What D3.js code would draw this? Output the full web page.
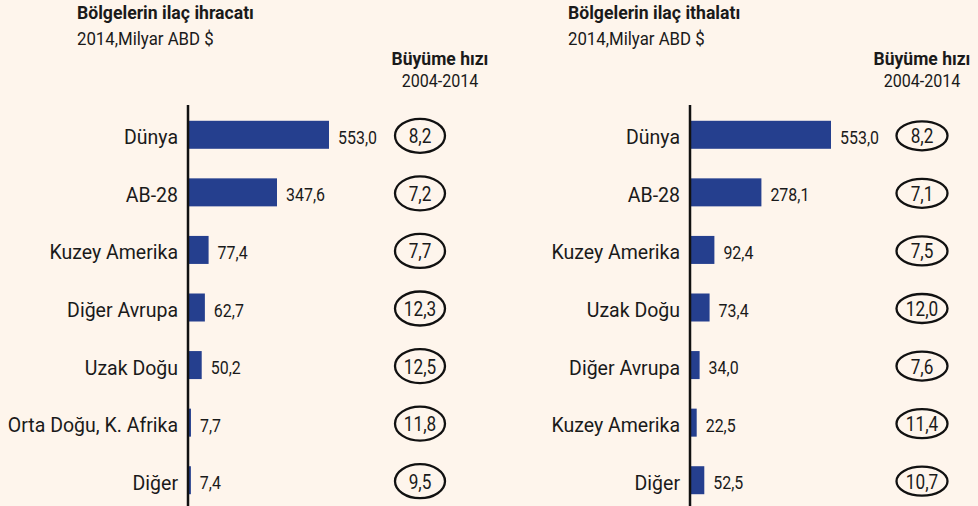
<!DOCTYPE html>
<meta charset="utf-8">
<style>
    body { margin: 0; background: #fef5ec; font-family: Roboto, "Noto Sans", sans-serif; }
    svg text { fill: #1a1a1a; }
</style>
<body>
<script src="https://cdn.jsdelivr.net/npm/d3@7/dist/d3.min.js"></script>
<script>

// ihracat (export)
var exportRegions = ["Dünya", "AB-28", "Kuzey Amerika", "Diğer Avrupa", "Uzak Doğu", "Orta Doğu, K. Afrika", "Diğer"];
var exportValues  = [553.0, 347.6, 77.4, 62.7, 50.2, 7.7, 7.4];
var exportGrowth  = [8.2, 7.2, 7.7, 12.3, 12.5, 11.8, 9.5];

// ithalat (import)
var importRegions = ["Dünya", "AB-28", "Kuzey Amerika", "Uzak Doğu", "Diğer Avrupa", "Kuzey Amerika", "Diğer"];
var importValues  = [553.0, 278.1, 92.4, 73.4, 34.0, 22.5, 52.5];
var importGrowth  = [8.2, 7.1, 7.5, 12.0, 7.6, 11.4, 10.7];

var fmt = function(v) { return d3.format(".1f")(v).replace(".", ","); };

var width = 978, height = 506;

var svg = d3.select("body").append("svg")
    .attr("width", width)
    .attr("height", height);

svg.append("rect")
    .attr("width", width)
    .attr("height", height)
    .attr("fill", "#fef5ec");

// the original uses a narrow DIN-like face; squeeze Roboto a little
function squeeze(x, y, s) {
  return "translate(" + x + "," + y + ") scale(" + s + ",1)";
}

function panel(opt) {
  var g = svg.append("g");
  var idx = d3.range(opt.regions.length);

  var y = d3.scalePoint()
      .domain(idx)
      .range([106, 509])
      .padding(0.5);

  var x = d3.scaleLinear()
      .domain([0, 553])
      .range([opt.axisX + 1, opt.axisX + 141]);

  // titles
  g.append("text")
      .attr("transform", squeeze(opt.titleX, 19, 0.98))
      .style("font-size", "18px").style("font-weight", "bold")
      .text(opt.title);
  g.append("text")
      .attr("transform", squeeze(opt.titleX, 45, 0.96))
      .style("font-size", "17.5px")
      .text("2014,Milyar ABD $");

  g.append("text")
      .attr("x", opt.headX).attr("y", 65)
      .attr("text-anchor", "middle")
      .style("font-size", "17.5px").style("font-weight", "bold")
      .text("Büyüme hızı");
  g.append("text")
      .attr("transform", squeeze(opt.headX, 87, 0.92))
      .attr("text-anchor", "middle")
      .style("font-size", "17.5px")
      .text("2004-2014");

  // bars
  g.selectAll("rect.bar")
      .data(idx)
    .enter().append("rect")
      .attr("class", "bar")
      .attr("x", x(0))
      .attr("y", function(i) { return y(i) - 14; })
      .attr("width", function(i) { return x(opt.values[i]) - x(0); })
      .attr("height", 28)
      .attr("fill", "#253f8e");

  // axis line
  g.append("line")
      .attr("x1", opt.axisX).attr("x2", opt.axisX)
      .attr("y1", 105).attr("y2", height)
      .attr("stroke", "#111").attr("stroke-width", 2.5);

  // category labels
  g.selectAll("text.cat")
      .data(idx)
    .enter().append("text")
      .attr("class", "cat")
      .attr("x", opt.axisX - 10)
      .attr("y", function(i) { return y(i) + 9.5; })
      .attr("text-anchor", "end")
      .style("font-size", "19.5px")
      .text(function(i) { return opt.regions[i]; });

  // value labels
  g.selectAll("text.val")
      .data(idx)
    .enter().append("text")
      .attr("class", "val")
      .attr("transform", function(i) { return squeeze(x(opt.values[i]) + 9, y(i) + 9, 0.84); })
      .style("font-size", "19px")
      .text(function(i) { return fmt(opt.values[i]); });

  // growth ellipses
  var eg = g.selectAll("g.growth")
      .data(idx)
    .enter().append("g")
      .attr("class", "growth")
      .attr("transform", function(i) { return "translate(" + opt.growthX + "," + (y(i) + 1) + ")"; });
  eg.append("ellipse")
      .attr("rx", opt.rx).attr("ry", opt.ry)
      .attr("fill", "none")
      .attr("stroke", "#111").attr("stroke-width", 2.3);
  eg.append("text")
      .attr("text-anchor", "middle")
      .attr("transform", squeeze(0, 7.5, 0.86))
      .style("font-size", "20px")
      .text(function(i) { return fmt(opt.growth[i]); });
}

panel({
  title: "Bölgelerin ilaç ihracatı",
  titleX: 77, axisX: 188, headX: 440, growthX: 420, rx: 25, ry: 17,
  regions: exportRegions, values: exportValues, growth: exportGrowth
});

panel({
  title: "Bölgelerin ilaç ithalatı",
  titleX: 568, axisX: 690, headX: 922, growthX: 922, rx: 25.5, ry: 14.5,
  regions: importRegions, values: importValues, growth: importGrowth
});

</script>
</body>
